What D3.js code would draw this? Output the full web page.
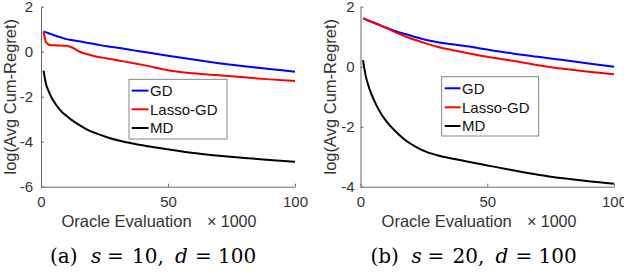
<!DOCTYPE html>
<html><head><meta charset="utf-8">
<script src="https://cdn.jsdelivr.net/npm/d3@7"></script>
<style>html,body{margin:0;padding:0;background:#fff;} svg{display:block}</style>
</head><body>
<svg id="c" width="624" height="272"></svg>
<script>
// ---- data (x in thousands of oracle evaluations) ----
const evals   = [1,2,3,4,6,8,10,12,15,18,22,26,31,36,42,50,60,70,80,90,100];
// panel (a) s=10, d=100
const gdA     = [0.9,0.86,0.82,0.78,0.7,0.63,0.56,0.52,0.46,0.4,0.32,0.24,0.16,0.07,-0.04,-0.18,-0.35,-0.51,-0.65,-0.77,-0.89];
const lassoA  = [0.9,0.42,0.32,0.29,0.28,0.27,0.26,0.2,0.01,-0.1,-0.22,-0.3,-0.4,-0.5,-0.63,-0.82,-0.96,-1.05,-1.14,-1.23,-1.3];
const mdA     = [-0.84,-1.45,-1.75,-2.0,-2.37,-2.65,-2.85,-3.03,-3.25,-3.45,-3.64,-3.8,-3.96,-4.08,-4.2,-4.34,-4.5,-4.62,-4.72,-4.81,-4.89];
// panel (b) s=20, d=100
const gdB     = [1.61,1.58,1.54,1.51,1.44,1.37,1.3,1.24,1.15,1.08,0.98,0.89,0.81,0.75,0.68,0.57,0.44,0.33,0.22,0.11,0.0];
const lassoB  = [1.61,1.58,1.54,1.51,1.45,1.38,1.3,1.22,1.1,1.0,0.88,0.77,0.65,0.56,0.46,0.33,0.2,0.05,-0.07,-0.17,-0.25];
const mdB     = [0.22,-0.28,-0.6,-0.85,-1.24,-1.55,-1.8,-2.0,-2.25,-2.47,-2.68,-2.84,-2.97,-3.06,-3.16,-3.29,-3.45,-3.6,-3.72,-3.82,-3.9];

const seriesNames  = ["GD","Lasso-GD","MD"];
const seriesColors = ["#0000ff","#ff0000","#000000"];
const xTicks  = [0,50,100];
const yTicksA = [-6,-4,-2,0,2];
const yTicksB = [-4,-2,0,2];
const xLabel = "Oracle Evaluation";
const xExp   = "\u00d7 1000";
const yLabel = "log(Avg Cum-Regret)";
const captionA = ["(a)","s","=","10,","d","=","100"];
const captionB = ["(b)","s","=","20,","d","=","100"];
const captionItalic = [false,true,false,false,true,false,false];
const captionOffsets = [0,41,57,82,125,145,168];

const panels = [
  {series:[gdA,lassoA,mdA], yDomain:[-6,2], yTicks:yTicksA, x0:41, x1:295, top:6.7, bot:186.7,
   leg:{x:129,y:79.3,w:98,h:59.7,rows:[90.6,109.3,128], lx0:131.7,lx1:148.5,tx:150},
   yPad:8, xlabCx:126.5, expX:207, capX:50, ylabX:16, caption:captionA},
  {series:[gdB,lassoB,mdB], yDomain:[-4,2], yTicks:yTicksB, x0:360.5, x1:614, top:6.7, bot:186.7,
   leg:{x:441.7,y:76.7,w:97,h:59.3,rows:[88.3,107.3,126], lx0:444.7,lx1:460.5,tx:462},
   yPad:6, xlabCx:446.7, expX:527, capX:370.5, ylabX:336, caption:captionB}
];

const svg = d3.select("#c");
const sans = "'Liberation Sans', Arial, Helvetica, sans-serif";
const serif = "'DejaVu Serif', serif";
const axisCol = "#6a6a6a", textCol = "#333333";

panels.forEach(p => {
  const x = d3.scaleLinear().domain([0,100]).range([p.x0,p.x1]);
  const y = d3.scaleLinear().domain(p.yDomain).range([p.bot,p.top]);
  const g = svg.append("g");

  // axes
  const ya = g.append("g").attr("transform",`translate(${p.x0},0)`)
    .call(d3.axisLeft(y).tickValues(p.yTicks).tickSizeInner(-3).tickSizeOuter(0).tickPadding(p.yPad));
  const xa = g.append("g").attr("transform",`translate(0,${p.bot})`)
    .call(d3.axisBottom(x).tickValues(xTicks).tickSizeInner(-3).tickSizeOuter(0).tickPadding(9.5));
  [ya,xa].forEach(a=>{
    a.select(".domain").attr("stroke",axisCol).attr("stroke-width",1);
    a.selectAll(".tick line").attr("stroke",axisCol).attr("stroke-width",1);
    a.selectAll(".tick text").attr("fill",textCol).style("font-family",sans).style("font-size","15px");
  });
  ya.selectAll(".tick text").text(d => d < 0 ? "-" + Math.abs(d) : d);

  // lines
  const line = d3.line().x((d,i)=>x(evals[i])).y(d=>y(d)).curve(d3.curveMonotoneX);
  p.series.forEach((s,k)=>{
    g.append("path").datum(s).attr("d",line).attr("fill","none")
      .attr("stroke",seriesColors[k]).attr("stroke-width",2).attr("stroke-linejoin","round");
  });

  // legend
  const L = p.leg;
  g.append("rect").attr("x",L.x).attr("y",L.y).attr("width",L.w).attr("height",L.h)
    .attr("fill","#fff").attr("stroke","#7a7a7a").attr("stroke-width",0.9);
  seriesNames.forEach((n,k)=>{
    g.append("line").attr("x1",L.lx0).attr("x2",L.lx1).attr("y1",L.rows[k]).attr("y2",L.rows[k])
      .attr("stroke",seriesColors[k]).attr("stroke-width",2);
    g.append("text").attr("x",L.tx).attr("y",L.rows[k]).attr("dy","0.36em")
      .attr("fill","#111").style("font-family",sans).style("font-size","15px").text(n);
  });

  // labels
  g.append("text").attr("x",p.xlabCx).attr("y",226.7).attr("text-anchor","middle")
    .attr("fill",textCol).style("font-family",sans).style("font-size","16.5px").text(xLabel);
  g.append("text").attr("x",p.expX).attr("y",226.7)
    .attr("fill",textCol).style("font-family",sans).style("font-size","16px").text(xExp);
  g.append("text").attr("transform",`translate(${p.ylabX},${(p.top+p.bot)/2}) rotate(-90)`)
    .attr("text-anchor","middle").attr("fill",textCol)
    .style("font-family",sans).style("font-size","16.5px").text(yLabel);

  // caption
  const cap = g.append("text").attr("y",263)
    .attr("fill","#000").style("font-family",serif).style("font-size","20px");
  p.caption.forEach((t,i)=>{
    cap.append("tspan").attr("x",p.capX + captionOffsets[i])
      .style("font-style",captionItalic[i]?"italic":"normal").text(t);
  });
});
</script>
</body></html>
